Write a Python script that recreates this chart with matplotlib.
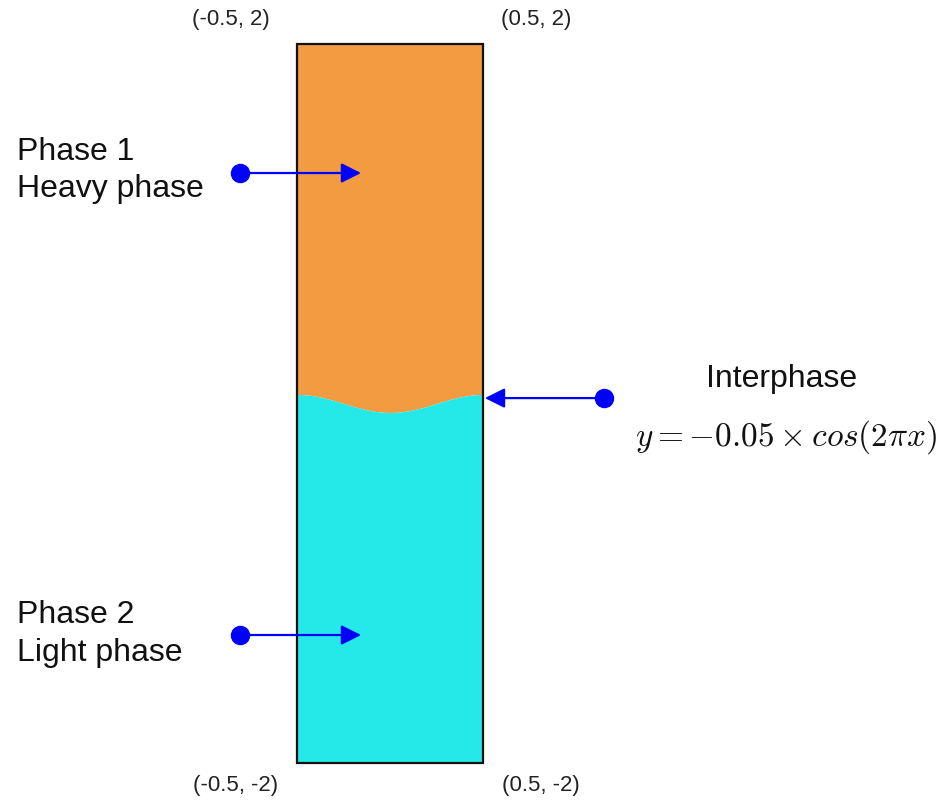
import numpy as np
import matplotlib.pyplot as plt
from matplotlib.patches import Rectangle

plt.rcParams['font.family'] = ['Liberation Sans', 'DejaVu Sans']
plt.rcParams['mathtext.fontset'] = 'cm'

# domain of the box
x_bounds = [-0.5, 0.5]
y_bounds = [-2.0, 2.0]
# interface y = amp * cos(2 pi x)
amp = -0.05

corner_labels = ['(-0.5, 2)', '(0.5, 2)', '(-0.5, -2)', '(0.5, -2)']
corner_pos = [(-0.855, 2.139), (0.785, 2.139), (-0.833, -2.117), (0.81, -2.117)]

phase_labels = ['Phase 1\nHeavy phase', 'Phase 2\nLight phase']
phase_text_y = [1.300, -1.276]
phase_arrow_y = [1.282, -1.288]

heavy_color = '#F29B41'
light_color = '#25E8E8'

fig = plt.figure(figsize=(9.49, 8.04), dpi=100)
ax = fig.add_axes([0, 0, 1, 1])
ax.set_xlim(-2.097, 3.005)
ax.set_ylim(-2.2225, 2.25)
ax.axis('off')

xs = np.linspace(x_bounds[0], x_bounds[1], 300)
iface = amp * np.cos(2 * np.pi * xs)

ax.fill_between(xs, iface, y_bounds[1], color=heavy_color, lw=0)
ax.fill_between(xs, y_bounds[0], iface, color=light_color, lw=0)
ax.add_patch(Rectangle((x_bounds[0], y_bounds[0]), x_bounds[1] - x_bounds[0],
                       y_bounds[1] - y_bounds[0], fill=False, ec='#111111', lw=1.6, zorder=3))

# corner coordinates
for lab, (cx, cy) in zip(corner_labels, corner_pos):
    ax.text(cx, cy, lab, fontsize=16, ha='center', va='center', color='#222222')

# phase annotations
for lab, ty, ay in zip(phase_labels, phase_text_y, phase_arrow_y):
    ax.text(-2.005, ty, lab, fontsize=23, ha='left', va='center', color='#111111', linespacing=1.32)
    ax.annotate('', xy=(-0.156, ay), xytext=(-0.806, ay),
                arrowprops=dict(arrowstyle='-|>', color='blue', lw=1.6, mutation_scale=30,
                                shrinkA=0, shrinkB=0), zorder=4)
    ax.plot(-0.806, ay, 'o', color='blue', markersize=13, zorder=5)

# interphase
ax.annotate('', xy=(0.51, 0.03), xytext=(1.15, 0.03),
            arrowprops=dict(arrowstyle='-|>', color='blue', lw=1.6, mutation_scale=30,
                            shrinkA=0, shrinkB=0), zorder=4)
ax.plot(1.15, 0.03, 'o', color='blue', markersize=13, zorder=5)
ax.text(2.107, 0.142, 'Interphase', fontsize=23, ha='center', va='center', color='#111111')
ax.text(2.129, -0.181, r'$y = -0.05 \times cos(2\pi x)$', fontsize=24, ha='center', va='center',
        color='#111111')

fig.savefig('out.png', dpi=100, facecolor='white')
